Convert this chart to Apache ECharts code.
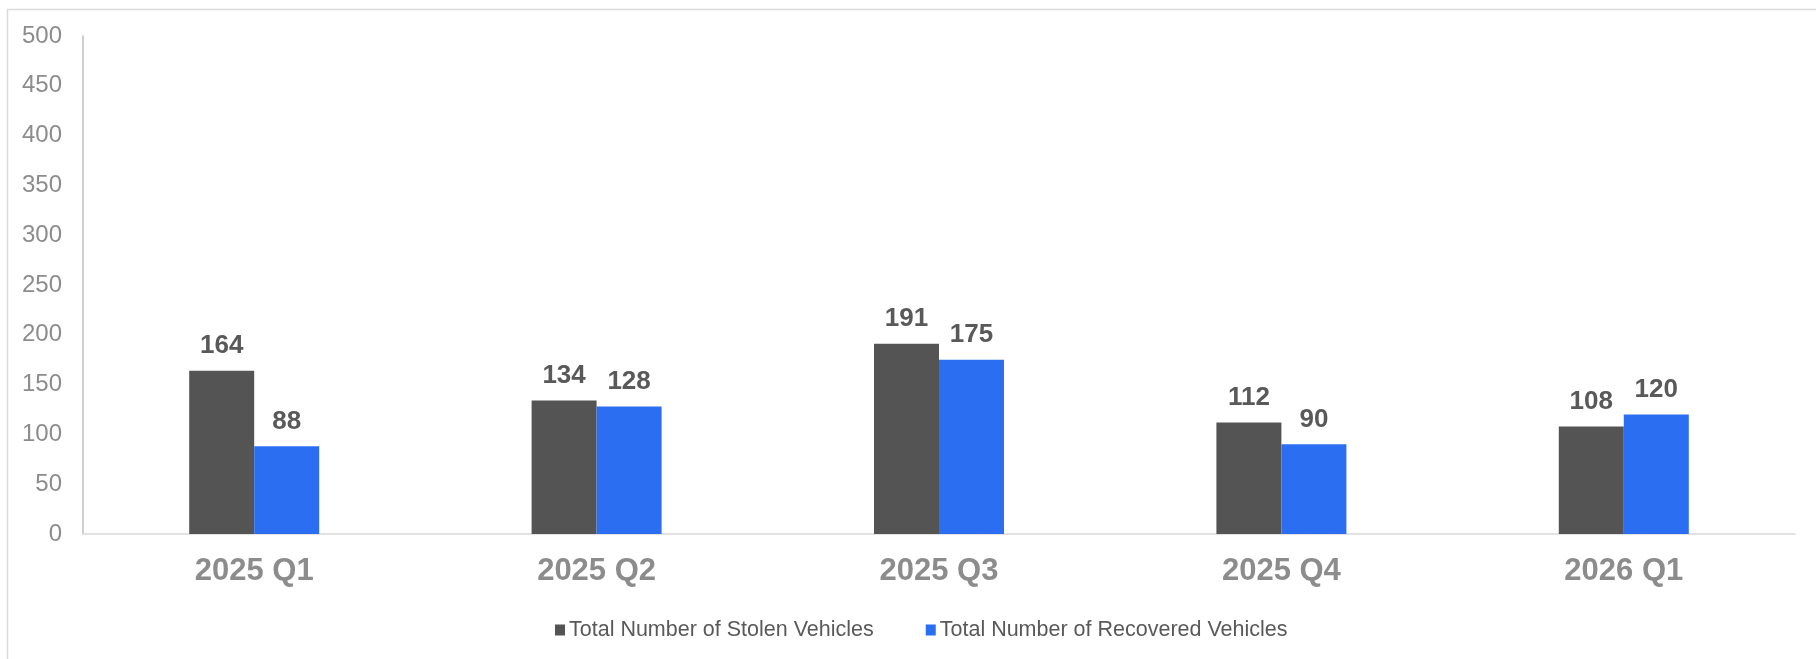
<!DOCTYPE html>
<html>
<head>
<meta charset="utf-8">
<script src="https://cdn.jsdelivr.net/npm/echarts@6/dist/echarts.min.js"></script>
<style>
html,body{margin:0;padding:0;background:#fff;}
#chart{width:1816px;height:659px;}
</style>
</head>
<body>
<div id="chart"></div>
<script>
const categories = ['2025 Q1', '2025 Q2', '2025 Q3', '2025 Q4', '2026 Q1'];
const stolen = [164, 134, 191, 112, 108];
const recovered = [88, 128, 175, 90, 120];
const seriesNames = ['Total Number of Stolen Vehicles', 'Total Number of Recovered Vehicles'];
const yTicks = { min: 0, max: 500, interval: 50 };

const FONT = '"Liberation Sans", Arial, sans-serif';
const chart = echarts.init(document.getElementById('chart'), null, { renderer: 'canvas' });
const labelStyle = {
  show: true, position: 'top', distance: 12,
  fontFamily: FONT, fontWeight: 'bold', fontSize: 26, color: '#595959'
};
chart.setOption({
  animation: false,
  backgroundColor: '#fff',
  graphic: [{
    type: 'rect', left: 5, top: 7, z: -1,
    shape: { width: 1900, height: 700 },
    style: { fill: 'none', stroke: '#d9d9d9', lineWidth: 1.5 }
  }],
  grid: { left: 83, right: 21, top: 36, bottom: 125, containLabel: false },
  legend: {
    left: 550, top: 614,
    itemWidth: 10, itemHeight: 11, itemGap: 52,
    icon: 'rect',
    textStyle: { fontFamily: FONT, fontSize: 21.5, color: '#595959', padding: [0, 0, 0, -1] },
    data: seriesNames
  },
  xAxis: {
    type: 'category', data: categories,
    axisLine: { lineStyle: { color: '#d9d9d9', width: 1.5 } },
    axisTick: { show: false },
    axisLabel: { fontFamily: FONT, fontWeight: 'bold', fontSize: 31, color: '#8c8c8c', margin: 22 }
  },
  yAxis: {
    type: 'value', min: yTicks.min, max: yTicks.max, interval: yTicks.interval,
    axisLine: { show: true, lineStyle: { color: '#bfbfbf', width: 1.5 } },
    axisTick: { show: false },
    splitLine: { show: false },
    axisLabel: { fontFamily: FONT, fontSize: 24, color: '#8c8c8c', margin: 21 }
  },
  series: [
    { name: seriesNames[0], type: 'bar', data: stolen, barWidth: 65, barGap: '0%',
      itemStyle: { color: '#545454' }, label: labelStyle },
    { name: seriesNames[1], type: 'bar', data: recovered, barWidth: 65, barGap: '0%',
      itemStyle: { color: '#2b6ef2' }, label: labelStyle }
  ]
});
</script>
</body>
</html>
